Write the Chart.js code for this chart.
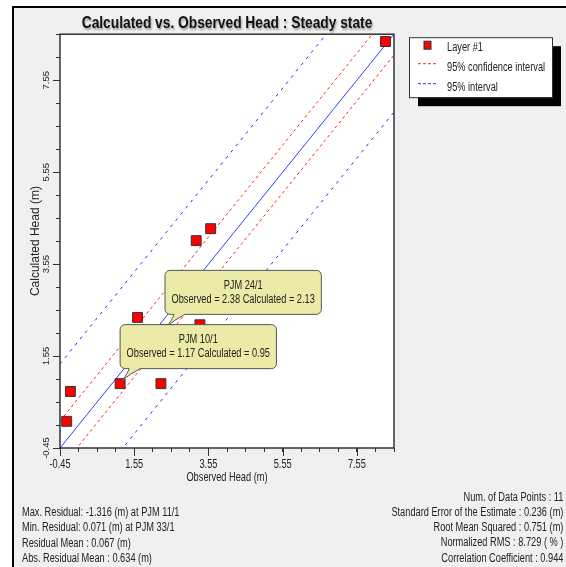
<!DOCTYPE html>
<html>
<head>
<meta charset="utf-8">
<script src="https://cdn.jsdelivr.net/npm/chart.js@4.4.1/dist/chart.umd.min.js"></script>
<style>
    html, body { margin: 0; padding: 0; background: #fff; }
    body {
        width: 566px; height: 567px; position: relative; overflow: hidden;
        font-family: 'Liberation Sans', Arial, sans-serif;
    }
    #frame {
        position: absolute; left: 12px; top: 6px; width: 600px; height: 600px;
        background: #f0f0f0; border-left: 2px solid #000; border-top: 2px solid #000;
    }
    #chart { position: absolute; left: 0; top: 0; }
    .stats { position: absolute; font-size: 12px; line-height: 15.3px; color: #222; white-space: nowrap; }
    .stats div { transform: scaleX(0.77); }
    #statsLeft { left: 22px; top: 505px; }
    #statsLeft div { transform-origin: left center; }
    #statsRight { right: 3px; top: 489.5px; text-align: right; }
    #statsRight div { transform-origin: right center; }
</style>
</head>
<body>
<div id="frame"></div>
<canvas id="chart" width="566" height="567"></canvas>
<div id="statsLeft" class="stats"></div>
<div id="statsRight" class="stats"></div>
<script>
// observed vs calculated head (m)
const observed   = [8.32, 3.22, 3.61, 1.64, 3.32, 2.38, 1.17, 2.27, -0.17, -0.27, 2.85];
const calculated = [8.39, 4.06, 4.32, 2.39, 2.23, 2.13, 0.95, 0.95, 0.78, 0.13, 2.65];

// labelled wells shown with callouts (index into the arrays above)
const calloutWells = ['PJM 24/1', 'PJM 10/1'];
const calloutIndex = [5, 6];

// axes
const axisMin = -0.45;
const axisMax = 8.55;
const minorStep = 0.5;
const tickLabels = [-0.45, 1.55, 3.55, 5.55, 7.55];

// interval lines around the 1:1 line
const residualMean = 0.067;
const confidenceHalf = 0.52;
const intervalHalf = 1.76;

const statsLeft = [
    'Max. Residual: -1.316 (m) at PJM 11/1',
    'Min. Residual: 0.071 (m) at PJM 33/1',
    'Residual Mean : 0.067 (m)',
    'Abs. Residual Mean : 0.634 (m)'
];
const statsRight = [
    'Num. of Data Points : ' + observed.length,
    'Standard Error of the Estimate : 0.236 (m)',
    'Root Mean Squared : 0.751 (m)',
    'Normalized RMS : 8.729 ( % )',
    'Correlation Coefficient : 0.944'
];

const FONT = "'Liberation Sans', Arial, sans-serif";
Chart.defaults.font.family = FONT;
Chart.defaults.color = '#222';

function fillLines(id, lines) {
    const box = document.getElementById(id);
    lines.forEach(t => {
        const d = document.createElement('div');
        d.textContent = t;
        box.appendChild(d);
    });
}
fillLines('statsLeft', statsLeft);
fillLines('statsRight', statsRight);

// the original uses a narrow face for horizontal text; squeeze canvas text the same way
const canvas = document.getElementById('chart');
const ctx2d = canvas.getContext('2d');
const plainFillText = ctx2d.fillText;
ctx2d.fillText = function (text, x, y) {
    const rotated = Math.abs(this.getTransform().b) > 1e-6;
    const bold = this.font.indexOf('bold') >= 0;
    const k = rotated ? 1 : (bold ? 0.86 : 0.77);
    this.save();
    if (bold) {
        this.shadowColor = 'rgba(0,0,0,0.35)';
        this.shadowOffsetX = 1;
        this.shadowOffsetY = 2;
        this.shadowBlur = 2;
    }
    this.translate(x, y);
    this.scale(k, 1);
    plainFillText.call(this, text, 0, 0);
    this.restore();
};

const points = observed.map((o, i) => ({ x: o, y: calculated[i] }));

function offsetLine(offset) {
    return [{ x: axisMin, y: axisMin + offset }, { x: axisMax, y: axisMax + offset }];
}

const tickValues = [];
for (let k = 0; axisMin + k * minorStep <= axisMax + 1e-9; k++) {
    tickValues.push(+(axisMin + k * minorStep).toFixed(2));
}
const isMajor = v => tickLabels.some(t => Math.abs(t - v) < 1e-6);

function lineSet(label, data, color, dash, hidden) {
    return {
        label: label, data: data, showLine: true, borderColor: color, borderWidth: 1,
        borderDash: dash, pointRadius: 0, fill: false, hideInLegend: hidden
    };
}

const plotFrame = {
    id: 'plotFrame',
    beforeDraw(chart) {
        const a = chart.chartArea, ctx = chart.ctx;
        ctx.save();
        ctx.fillStyle = '#fff';
        ctx.fillRect(a.left, a.top, a.right - a.left, a.bottom - a.top);
        ctx.restore();
    },
    afterDatasetsDraw(chart) {
        const a = chart.chartArea, ctx = chart.ctx;
        const xs = chart.scales.x, ys = chart.scales.y;
        ctx.save();
        ctx.strokeStyle = '#333';
        ctx.lineWidth = 1.5;
        ctx.strokeRect(a.left, a.top, a.right - a.left, a.bottom - a.top);
        // longer marks at labelled ticks
        ctx.lineWidth = 1;
        ctx.beginPath();
        tickLabels.forEach(v => {
            const px = Math.round(xs.getPixelForValue(v)) + 0.5;
            ctx.moveTo(px, a.bottom);
            ctx.lineTo(px, a.bottom + 8);
            const py = Math.round(ys.getPixelForValue(v)) + 0.5;
            ctx.moveTo(a.left, py);
            ctx.lineTo(a.left - 7, py);
        });
        ctx.stroke();
        ctx.restore();
    }
};

const callouts = {
    id: 'callouts',
    afterDatasetsDraw(chart) {
        const ctx = chart.ctx, xs = chart.scales.x, ys = chart.scales.y;
        ctx.save();
        ctx.font = '12px ' + FONT;
        calloutWells.forEach((name, n) => {
            const i = calloutIndex[n];
            const px = xs.getPixelForValue(observed[i]);
            const py = ys.getPixelForValue(calculated[i]);
            const line2 = 'Observed = ' + observed[i].toFixed(2) + ' Calculated = ' + calculated[i].toFixed(2);
            const w = Math.max(ctx.measureText(line2).width, ctx.measureText(name).width) * 0.77 + 13;
            const h = 44, r = 5;
            const L = px, R = px + w, B = py - 15, T = B - h;
            ctx.beginPath();
            ctx.moveTo(L + r, T);
            ctx.lineTo(R - r, T); ctx.arcTo(R, T, R, T + r, r);
            ctx.lineTo(R, B - r); ctx.arcTo(R, B, R - r, B, r);
            ctx.lineTo(L + 20, B);
            ctx.quadraticCurveTo(L + 10, B + 5, px + 2, py - 3);
            ctx.quadraticCurveTo(L + 8, B + 4, L + 9, B);
            ctx.lineTo(L + r, B); ctx.arcTo(L, B, L, B - r, r);
            ctx.lineTo(L, T + r); ctx.arcTo(L, T, L + r, T, r);
            ctx.closePath();
            ctx.fillStyle = '#ebeba7';
            ctx.fill();
            ctx.strokeStyle = '#555';
            ctx.lineWidth = 1;
            ctx.stroke();
            ctx.fillStyle = '#222';
            ctx.textAlign = 'center';
            ctx.textBaseline = 'middle';
            ctx.fillText(name, (L + R) / 2, T + 15);
            ctx.fillText(line2, (L + R) / 2, T + 29.5);
        });
        ctx.restore();
    }
};

const boxLegend = {
    id: 'boxLegend',
    afterDraw(chart) {
        const ctx = chart.ctx, a = chart.chartArea;
        const left = a.right + 15, top = a.top + 3, w = 143, h = 60;
        ctx.save();
        ctx.fillStyle = '#000';
        ctx.fillRect(left + 9, top + 9, w, h);
        ctx.fillStyle = '#fff';
        ctx.fillRect(left, top, w, h);
        ctx.strokeStyle = '#333';
        ctx.lineWidth = 1;
        ctx.strokeRect(left + 0.5, top + 0.5, w, h);
        ctx.font = '12px ' + FONT;
        ctx.textBaseline = 'middle';
        ctx.textAlign = 'left';
        let row = 0;
        chart.data.datasets.forEach(ds => {
            if (ds.hideInLegend) return;
            const y = top + 10 + row * 20;
            if (ds.showLine) {
                ctx.strokeStyle = ds.borderColor;
                ctx.lineWidth = 1;
                ctx.setLineDash([3, 2]);
                ctx.beginPath();
                ctx.moveTo(left + 9, y - 3.5);
                ctx.lineTo(left + 28, y - 3.5);
                ctx.stroke();
                ctx.setLineDash([]);
            } else {
                ctx.fillStyle = ds.backgroundColor;
                ctx.fillRect(left + 15, y - 6, 7, 8);
                ctx.strokeStyle = ds.borderColor;
                ctx.strokeRect(left + 15, y - 6, 7, 8);
            }
            ctx.fillStyle = '#222';
            ctx.fillText(ds.label, left + 38, y);
            row++;
        });
        ctx.restore();
    }
};

new Chart(canvas, {
    type: 'scatter',
    data: {
        datasets: [
            {
                label: 'Layer #1', data: points, pointStyle: 'rect', pointRadius: 7,
                backgroundColor: '#ff0000', borderColor: '#333', borderWidth: 1
            },
            lineSet('1:1', offsetLine(0), '#3a3aff', [], true),
            lineSet('95% confidence interval', offsetLine(residualMean + confidenceHalf), '#ff2a2a', [3, 3], false),
            lineSet('95% confidence interval', offsetLine(residualMean - confidenceHalf), '#ff2a2a', [3, 3], true),
            lineSet('95% interval', offsetLine(residualMean + intervalHalf), '#2a2aff', [3, 5], false),
            lineSet('95% interval', offsetLine(residualMean - intervalHalf), '#2a2aff', [3, 5], true)
        ]
    },
    options: {
        responsive: false,
        animation: false,
        layout: { padding: { left: 0, top: 0, right: 172, bottom: 0 } },
        plugins: {
            legend: { display: false },
            tooltip: { enabled: false },
            title: {
                display: true,
                text: 'Calculated vs. Observed Head : Steady state',
                fullSize: false,
                color: '#111',
                font: { size: 16, weight: 'bold' },
                padding: { top: 14, bottom: 1 }
            }
        },
        scales: {
            x: {
                type: 'linear', min: axisMin, max: axisMax,
                afterBuildTicks: s => { s.ticks = tickValues.map(v => ({ value: v })); },
                afterFit: s => { s.height = 119; },
                ticks: {
                    autoSkip: false, maxRotation: 0, padding: 5, color: '#222', font: { size: 12 },
                    callback: v => isMajor(v) ? v.toFixed(2) : ''
                },
                grid: { drawOnChartArea: false, tickLength: 4, tickColor: '#333' },
                border: { display: false },
                title: {
                    display: true, text: 'Observed Head (m)', color: '#222',
                    font: { size: 12 }, padding: { top: 0, bottom: 82 }
                }
            },
            y: {
                type: 'linear', min: axisMin, max: axisMax,
                afterBuildTicks: s => { s.ticks = tickValues.map(v => ({ value: v })); },
                afterFit: s => { s.width = 60; },
                ticks: {
                    autoSkip: false, minRotation: 90, maxRotation: 90, crossAlign: 'center',
                    padding: -1, color: '#222', font: { size: 9.5 },
                    callback: v => isMajor(v) ? v.toFixed(2) : ''
                },
                grid: { drawOnChartArea: false, tickLength: 4, tickColor: '#333' },
                border: { display: false },
                title: {
                    display: true, text: 'Calculated Head (m)', color: '#222',
                    font: { size: 12 }, padding: { top: 28, bottom: 0 }
                }
            }
        }
    },
    plugins: [plotFrame, callouts, boxLegend]
});
</script>
</body>
</html>
